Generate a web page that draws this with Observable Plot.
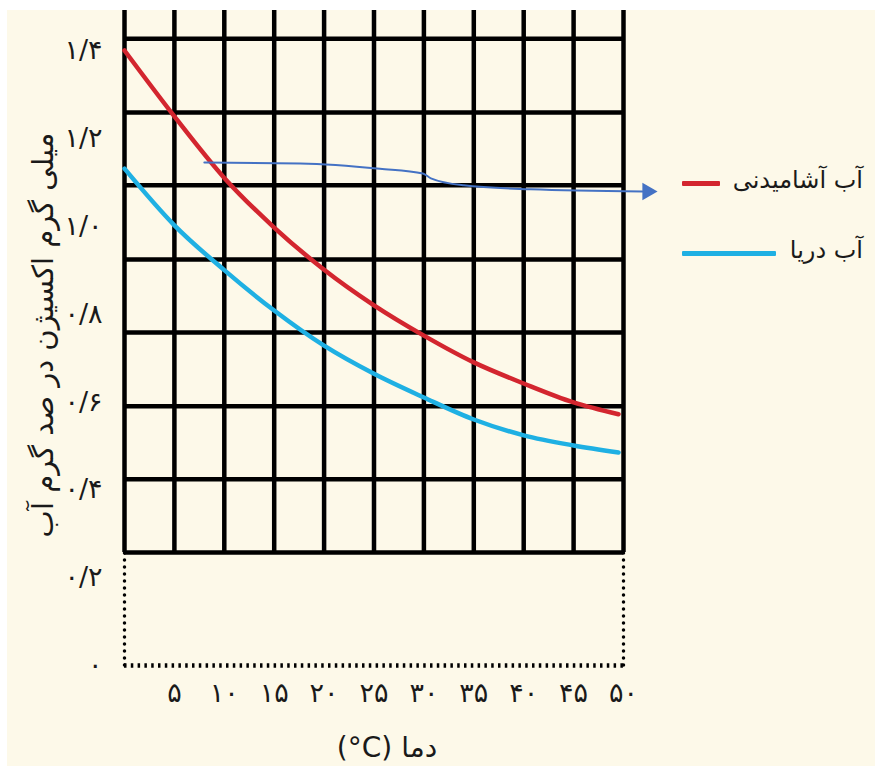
<!DOCTYPE html>
<html>
<head>
<meta charset="utf-8">
<script src="https://cdn.jsdelivr.net/npm/d3@7"></script>
<script src="https://cdn.jsdelivr.net/npm/@observablehq/plot@0.6"></script>
<style>
html, body { margin: 0; padding: 0; background: #ffffff; }
#wrap { position: absolute; left: 7px; top: 10px; width: 868px; height: 756px; background: #fdf9e9; font-family: "DejaVu Sans", sans-serif; color: #1a1a1a; overflow: hidden; }
#wrap svg { position: absolute; left: 0; top: 0; }
.lg { position: absolute; left: 675px; width: 181px; height: 40px; display: flex; align-items: center; justify-content: space-between; }
.lg .sw { height: 5px; margin-top: 6px; border-radius: 1px; }
.lg .tx { direction: rtl; font-size: 24px; white-space: nowrap; }
</style>
</head>
<body>
<div id="wrap"></div>
<script>
// ---- data ----
const temps = [0, 5, 10, 15, 20, 25, 30, 35, 40, 45, 49.5];
const drinkingWater = [1.40, 1.250, 1.110, 0.997, 0.901, 0.820, 0.751, 0.690, 0.642, 0.599, 0.572];
const seaWater = [1.131, 1.002, 0.900, 0.808, 0.728, 0.664, 0.610, 0.560, 0.524, 0.501, 0.485];
const seriesNames = ["آب آشامیدنی", "آب دریا"];
const seriesColors = ["#d3262f", "#1fb0e3"];

const xTicks = [5, 10, 15, 20, 25, 30, 35, 40, 45, 50];
const xTickLabels = ["۵", "۱۰", "۱۵", "۲۰", "۲۵", "۳۰", "۳۵", "۴۰", "۴۵", "۵۰"];
const yTicks = [0, 0.2, 0.4, 0.6, 0.8, 1.0, 1.2, 1.4];
const yTickLabels = ["۰", "۰/۲", "۰/۴", "۰/۶", "۰/۸", "۱/۰", "۱/۲", "۱/۴"];

const gridX = [0, 5, 10, 15, 20, 25, 30, 35, 40, 45, 50];
const gridY = [0.257, 0.424, 0.590, 0.758, 0.924, 1.093, 1.259, 1.427];
const gridTop = 1.491;
const boxBottom = 0;

const arrowPath = [
  {x: 8.0, y: 1.145}, {x: 17.6, y: 1.143}, {x: 25.6, y: 1.131}, {x: 29.9, y: 1.120},
  {x: 30.7, y: 1.109}, {x: 34.0, y: 1.093}, {x: 40.7, y: 1.084}, {x: 51.9, y: 1.079}
];
const arrowTip = [{x: 52.4, y: 1.079}];

const xTitle = "\u202Bدما (\u200E°C)\u202C";
const yTitle = "میلی گرم اکسیژن در صد گرم آب";

// ---- tidy table ----
const rows = temps.flatMap((t, i) => [
  {t, v: drinkingWater[i], s: seriesNames[0]},
  {t, v: seaWater[i], s: seriesNames[1]}
]);

const chart = Plot.plot({
  width: 868, height: 756,
  marginLeft: 117, marginRight: 252, marginTop: 40, marginBottom: 101,
  x: {domain: [0, 50]},
  y: {domain: [0, 1.4]},
  color: {domain: seriesNames, range: seriesColors},
  style: {background: "transparent", fontFamily: "DejaVu Sans", color: "#1a1a1a", overflow: "visible"},
  marks: [
    Plot.ruleY(gridY, {x1: 0, x2: 50, stroke: "#000", strokeWidth: 4.5}),
    Plot.ruleX(gridX, {y1: gridY[0], y2: gridTop, stroke: "#000", strokeWidth: 4.5}),
    Plot.ruleX([0, 50], {y1: boxBottom, y2: gridY[0], stroke: "#000", strokeWidth: 3.5, strokeDasharray: "0,7", strokeLinecap: "round"}),
    Plot.ruleY([boxBottom], {x1: 0, x2: 50, stroke: "#000", strokeWidth: 4.5, strokeDasharray: "2.5,4.3"}),
    Plot.line(rows, {x: "t", y: "v", stroke: "s", strokeWidth: 4.5, curve: "monotone-x"}),
    Plot.line(arrowPath, {x: "x", y: "y", stroke: "#4472c4", strokeWidth: 2, curve: "monotone-x"}),
    Plot.dot(arrowTip, {x: "x", y: "y", symbol: "triangle", rotate: 90, r: 6.5, fill: "#4472c4", stroke: null}),
    Plot.axisX({ticks: xTicks, tickFormat: d => xTickLabels[xTicks.indexOf(d)], tickSize: 0, tickPadding: 17, fontSize: 27, label: null}),
    Plot.axisY({ticks: yTicks, tickFormat: d => yTickLabels[yTicks.indexOf(d)], tickSize: 0, tickPadding: 22, fontSize: 27, label: null}),
    Plot.text([yTitle], {frameAnchor: "left", rotate: -90, textAnchor: "middle", lineAnchor: "middle", dx: -81, dy: -23, fontSize: 29, fill: "#1a1a1a"}),
    Plot.text([xTitle], {frameAnchor: "bottom", textAnchor: "middle", lineAnchor: "middle", dx: 13, dy: 83, fontSize: 28, fill: "#1a1a1a"})
  ]
});

const wrap = document.getElementById("wrap");
wrap.appendChild(chart);

// legend
const legendTops = [150, 220];
const swatchWidths = [38, 94];
seriesNames.forEach((name, i) => {
  const row = document.createElement("div");
  row.className = "lg";
  row.style.top = legendTops[i] + "px";
  const sw = document.createElement("div");
  sw.className = "sw";
  sw.style.width = swatchWidths[i] + "px";
  sw.style.background = seriesColors[i];
  const tx = document.createElement("div");
  tx.className = "tx";
  tx.textContent = name;
  row.appendChild(sw);
  row.appendChild(tx);
  wrap.appendChild(row);
});
</script>
</body>
</html>
